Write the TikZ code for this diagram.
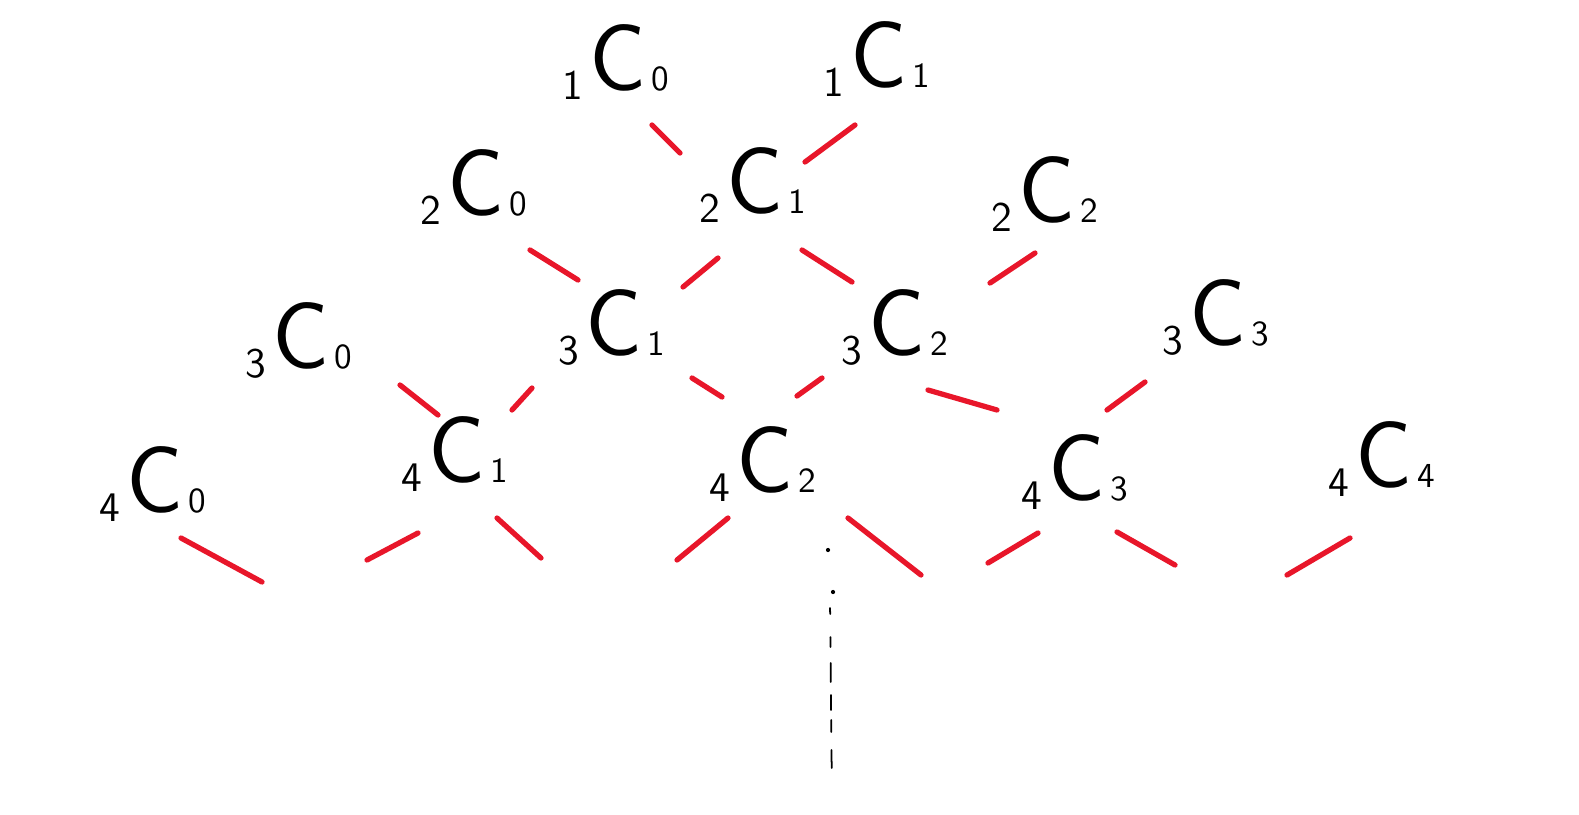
\documentclass[tikz,border=0pt]{standalone}
\usepackage{tikz}
\usetikzlibrary{positioning,calc}
\definecolor{penred}{RGB}{232,22,42}
\tikzset{
  every picture/.style={line width=0.6pt},
  coef/.style={anchor=base,inner sep=0pt,font=\sffamily},
  stroke/.style={line width=1.5pt,penred,line cap=round},
  dots/.style={line width=0.5pt,line cap=round},
}
\newcommand{\bcoef}[2]{\raisebox{-0.6ex}{\large #1}\,{\fontsize{27}{27}\selectfont C}\,{\normalsize #2}}

\begin{document}
\begin{tikzpicture}[x=1cm,y=1cm]
\useasboundingbox (0,0) rectangle (15.79,-8.14);
% row 1
\node[coef] (c10) at (6.16,-0.90) {\bcoef{1}{0}};
\node[coef] (c11) at (8.77,-0.87) {\bcoef{1}{1}};
% row 2
\node[coef] (c20) at (4.74,-2.15) {\bcoef{2}{0}};
\node[coef] (c21) at (7.53,-2.13) {\bcoef{2}{1}};
\node[coef] (c22) at (10.45,-2.22) {\bcoef{2}{2}};
% row 3
\node[coef] (c30) at (2.99,-3.68) {\bcoef{3}{0}};
\node[coef] (c31) at (6.12,-3.55) {\bcoef{3}{1}};
\node[coef] (c32) at (8.95,-3.55) {\bcoef{3}{2}};
\node[coef] (c33) at (12.16,-3.45) {\bcoef{3}{3}};
% row 4
\node[coef] (c40) at (1.53,-5.12) {\bcoef{4}{0}};
\node[coef] (c41) at (4.55,-4.82) {\bcoef{4}{1}};
\node[coef] (c42) at (7.63,-4.92) {\bcoef{4}{2}};
\node[coef] (c43) at (10.75,-5.00) {\bcoef{4}{3}};
\node[coef] (c44) at (13.82,-4.87) {\bcoef{4}{4}};
% red strokes
\foreach \xa/\ya/\xb/\yb in {
  6.52/1.25/6.80/1.53, 8.55/1.25/8.05/1.62,
  5.30/2.50/5.78/2.80, 7.18/2.58/6.83/2.87, 8.02/2.50/8.52/2.82, 10.35/2.53/9.90/2.83,
  4.00/3.85/4.38/4.15, 5.32/3.88/5.12/4.10, 6.92/3.78/7.22/3.97, 8.22/3.78/7.97/3.96,
  9.28/3.90/9.97/4.10, 11.45/3.82/11.07/4.10,
  1.81/5.38/2.62/5.82, 4.18/5.33/3.67/5.60, 4.97/5.18/5.41/5.58, 7.28/5.18/6.77/5.60,
  8.48/5.18/9.21/5.75, 10.38/5.33/9.88/5.63, 11.17/5.32/11.75/5.65, 13.50/5.38/12.87/5.75}
  {\draw[stroke] (\xa,-\ya) -- (\xb,-\yb);}
% dots down the middle
\fill (8.28,-5.50) circle (0.6pt);
\fill (8.33,-5.92) circle (0.6pt);
\foreach \ya/\yb in {6.08/6.14, 6.37/6.47, 6.63/6.82, 6.95/7.10, 7.20/7.32, 7.50/7.68}
  {\draw[dots] (8.30+\ya*0.01-0.06,-\ya) -- (8.30+\yb*0.01-0.06,-\yb);}
\end{tikzpicture}
\end{document}
